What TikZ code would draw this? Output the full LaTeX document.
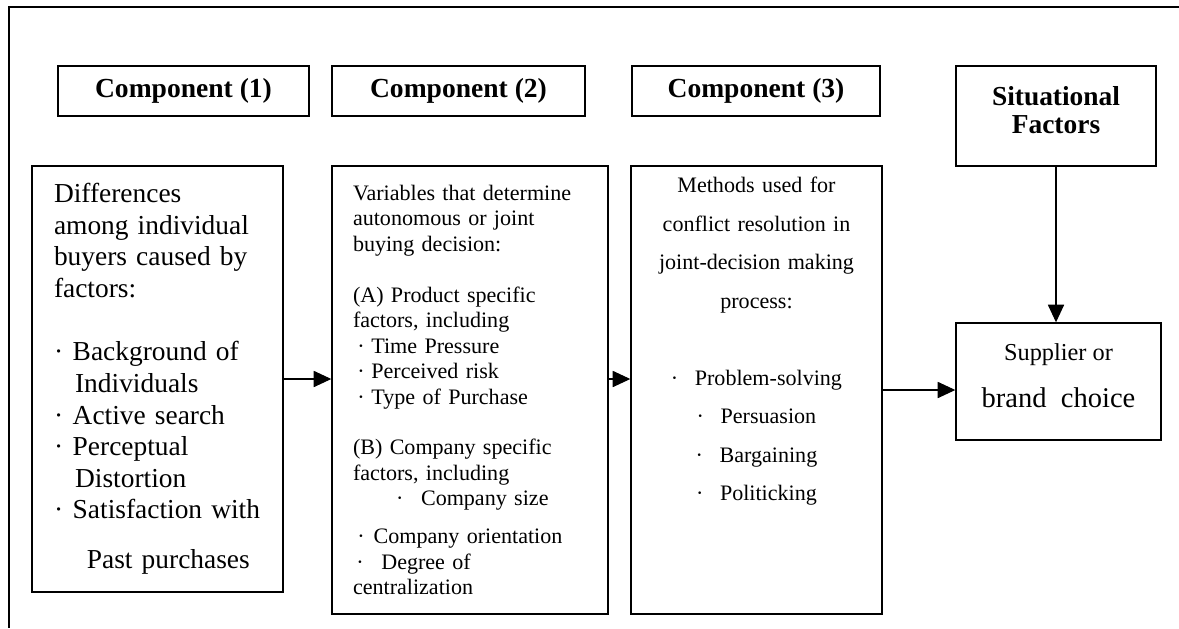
\documentclass[tikz,border=0pt]{standalone}
\usepackage{fontspec}
\setmainfont{Liberation Serif}
\usepackage{tikz}
\usetikzlibrary{arrows.meta}
\tikzset{
    every node/.style={rectangle, draw, line width=1pt, inner sep=0pt}
}
\tikzset{
    head/.style={minimum width=6.275cm, minimum height=1.25cm,
    	font=\bfseries\fontsize{19.6}{22}\selectfont},
    listbox/.style={align=left, inner xsep=.55cm},
    centrebox/.style={align=center}
}
\tikzset{
    every edge/.append style={line width=.8pt, -{Triangle[length=12.5pt,width=11.5pt]}}
}

\begin{document}
\begin{tikzpicture}[scale=.25]
  \useasboundingbox (0cm, 0cm) rectangle (117.9cm, -62.8cm);
  \draw [line width=1.1pt] (117.9cm, -0.7cm) -- (0.9cm, -0.7cm) -- (0.9cm, -62.8cm);

  \node (0) [head] at (18.35cm, -9.1cm) {Component (1)};
  \node (1) [head, minimum width=6.325cm] at (45.85cm, -9.1cm) {Component (2)};
  \node (2) [head, minimum width=6.2cm] at (75.6cm, -9.1cm) {Component (3)};
  \node (3) [centrebox, minimum width=5cm, minimum height=2.5cm,
  	font=\bfseries\fontsize{19.5}{20}\selectfont] at (105.6cm, -11.6cm)
  	{Situational\\Factors\\[-12pt]\mbox{}};

  \node (4) [listbox, text width=5.175cm, minimum height=10.65cm,
  	font=\fontsize{19.5}{22.5}\selectfont] at (15.75cm, -37.9cm)
  	{Differences\\
  	among individual\\
  	buyers caused by\\
  	factors:\\[22.5pt]
  	·\hspace{.35em}Background~of\\
  	\hspace*{.77em}Individuals\\
  	·\hspace{.35em}Active~search\\
  	·\hspace{.35em}Perceptual\\
  	\hspace*{.77em}Distortion\\
  	·\hspace{.35em}Satisfaction~with\\[13pt]
  	\hspace*{1.2em}Past~purchases};
  \node (5) [listbox, inner xsep=.525cm, text width=5.85cm, minimum height=11.2cm,
  	font=\fontsize{15.7}{18.1}\selectfont] at (47cm, -39cm)
  	{Variables that determine\\
  	autonomous or joint\\
  	buying decision:\\[18.1pt]
  	(A) Product specific\\
  	factors, including\\
  	\hspace*{.2em}·\hspace{.3em}Time Pressure\\
  	\hspace*{.2em}·\hspace{.3em}Perceived risk\\
  	\hspace*{.2em}·\hspace{.3em}Type of Purchase\\[18.1pt]
  	(B) Company specific\\
  	factors, including\\
  	\hspace*{1.95em}·\hspace{.8em}Company size\\[8.9pt]
  	\hspace*{.2em}·\hspace{.4em}Company orientation\\
  	\hspace*{.15em}·\hspace{.8em}Degree of\\
  	centralization};
  \node (6) [centrebox, inner xsep=.3cm, text width=5.675cm, minimum height=11.2cm,
  	font=\fontsize{15.7}{27.4}\selectfont] at (75.65cm, -39cm)
  	{Methods used for\\
  	conflict resolution in\\
  	joint-decision making\\
  	process:\\[27.4pt]
  	·\hspace{.75em}Problem-solving\\
  	·\hspace{.75em}Persuasion\\
  	·\hspace{.75em}Bargaining\\
  	·\hspace{.75em}Politicking\\[45pt]\mbox{}};
  \node (7) [centrebox, minimum width=5.125cm, minimum height=2.925cm,
  	font=\fontsize{17.3}{33.4}\selectfont] at (105.85cm, -38.15cm)
  	{Supplier or\\{\fontsize{20.3}{24}\selectfont brand\ \ choice}\\[-25pt]\mbox{}};

  \draw (4.east) edge (4.east -| 5.west);
  \draw (5.east |- 4.east) edge (4.east -| 6.west);
  \draw (6.east) edge (6.east -| 7.west);
  \draw (3.south) edge (3.south |- 7.north);
\end{tikzpicture}
\end{document}
